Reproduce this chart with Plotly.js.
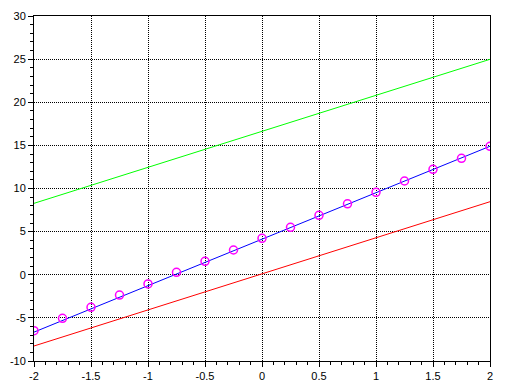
<!DOCTYPE html>
<html>
<head>
<meta charset="utf-8">
<script src="https://cdn.plot.ly/plotly-3.0.1.min.js"></script>
<style>html,body{margin:0;padding:0;background:#fff;}#chart{width:505px;height:390px;}</style>
</head>
<body>
<div id="chart"></div>
<script>
// Data points (magenta circles)
const pointX = [-2, -1.75, -1.5, -1.25, -1, -0.75, -0.5, -0.25, 0, 0.25, 0.5, 0.75, 1, 1.25, 1.5, 1.75, 2];
const pointY = [-6.49, -5.05, -3.78, -2.35, -1.07, 0.28, 1.56, 2.87, 4.22, 5.5, 6.89, 8.22, 9.56, 10.87, 12.22, 13.5, 14.89];
// Lines (endpoints)
const lineX = [-2, 2];
const blueY = [-6.65, 14.9];
const greenY = [8.28, 24.98];
const redY = [-8.26, 8.47];
const xTicks = [-2, -1.5, -1, -0.5, 0, 0.5, 1, 1.5, 2];
const yTicks = [-10, -5, 0, 5, 10, 15, 20, 25, 30];

const traces = [
  {x: lineX, y: greenY, mode: 'lines', line: {color: '#00ff00', width: 1}},
  {x: lineX, y: redY, mode: 'lines', line: {color: '#ff0000', width: 1}},
  {x: lineX, y: blueY, mode: 'lines', line: {color: '#0000ff', width: 1}},
  {x: pointX, y: pointY, mode: 'markers', marker: {symbol: 'circle-open', size: 8, color: '#ff00ff', line: {width: 1.5, color: '#ff00ff'}}}
];

const axisCommon = {
  showline: true, linecolor: '#000', linewidth: 1, mirror: true,
  showgrid: true, gridcolor: '#000', griddash: '1px,1px', gridwidth: 1,
  zeroline: false, ticks: 'outside', ticklen: 5, tickcolor: '#000', tickwidth: 1,
  tickfont: {family: 'Liberation Sans, Arial, sans-serif', size: 11, color: '#000'}
};

const layout = {
  width: 505, height: 390,
  margin: {l: 34, r: 15, t: 16, b: 29},
  paper_bgcolor: '#fff', plot_bgcolor: '#fff',
  showlegend: false,
  xaxis: Object.assign({}, axisCommon, {
    range: [-2, 2], tickvals: xTicks, ticktext: xTicks.map(String),
    minor: {dtick: 0.1, ticks: 'outside', ticklen: 3, tickcolor: '#000', showgrid: false}
  }),
  yaxis: Object.assign({}, axisCommon, {
    range: [-10, 30], tickvals: yTicks, ticktext: yTicks.map(String),
    minor: {dtick: 1, ticks: 'outside', ticklen: 3, tickcolor: '#000', showgrid: false}
  })
};

Plotly.newPlot('chart', traces, layout, {displayModeBar: false, staticPlot: true});
</script>
</body>
</html>
